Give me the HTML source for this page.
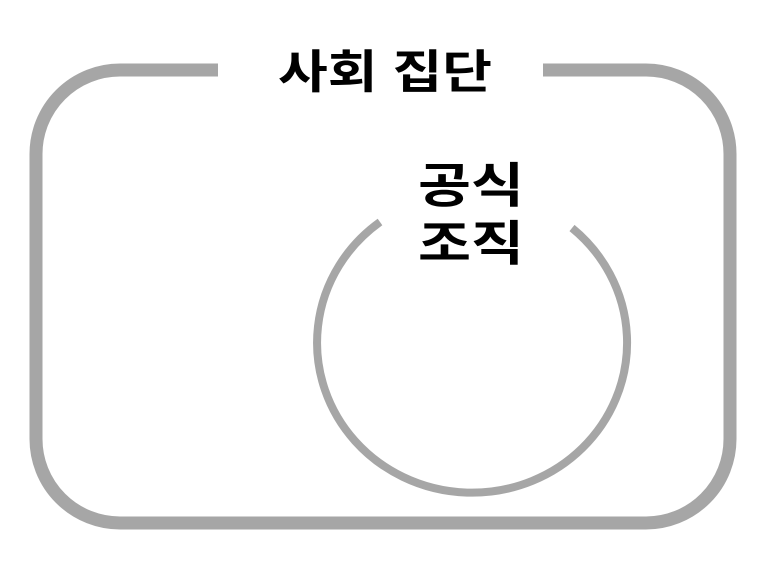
<!DOCTYPE html>
<html><head><meta charset="utf-8"><style>
html,body{margin:0;padding:0;background:#fff;}
svg{display:block;}
text{font-family:"Liberation Sans","Noto Sans CJK KR","NanumGothic",sans-serif;font-weight:bold;fill:#000;}
</style></head><body>
<svg width="773" height="567" viewBox="0 0 773 567" xmlns="http://www.w3.org/2000/svg">
<path d="M218,70 H120 A84,84 0 0 0 36,154 V439 A84,84 0 0 0 120,523 H646 A84,84 0 0 0 730,439 V154 A84,84 0 0 0 646,70 H543" fill="none" stroke="#a6a6a6" stroke-width="13"/>
<path d="M572,228 A155,150 0 1 1 380,222" fill="none" stroke="#a6a6a6" stroke-width="8"/>
<text x="278" y="88" font-size="46" textLength="214" lengthAdjust="spacingAndGlyphs">사회 집단</text>
<text x="418" y="202" font-size="48" textLength="106" lengthAdjust="spacingAndGlyphs">공식</text>
<text x="418" y="260" font-size="48" textLength="106" lengthAdjust="spacingAndGlyphs">조직</text>
</svg>
</body></html>
